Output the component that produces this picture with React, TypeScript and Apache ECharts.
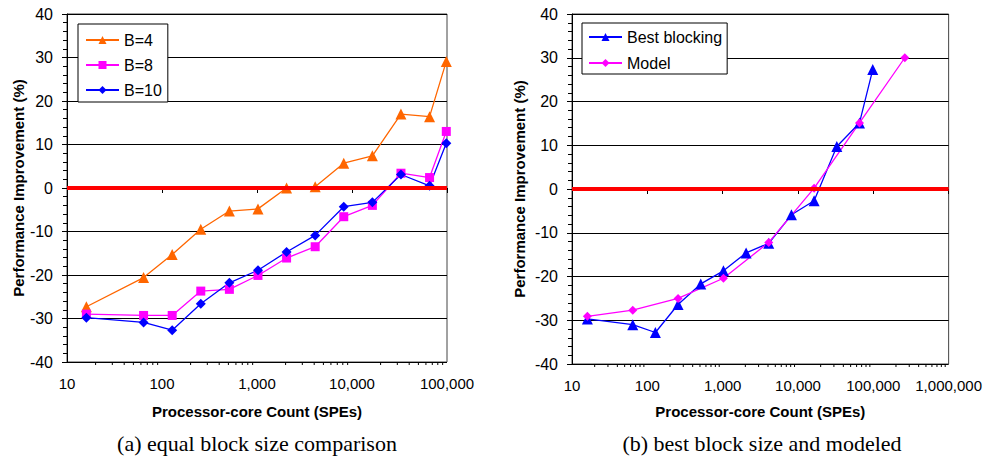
import React, { useEffect, useRef } from "react";
import * as echarts from "echarts";

const coresA = [16, 64, 128, 256, 512, 1024, 2048, 4096, 8192, 16384, 32768, 65536, 98304];
const b4 = [-27.3, -20.6, -15.3, -9.5, -5.3, -4.8, 0, 0.3, 5.7, 7.4, 17.0, 16.4, 29.1];
const b8 = [-29.0, -29.3, -29.3, -23.7, -23.3, -20.1, -16.1, -13.5, -6.6, -4.0, 3.4, 2.4, 13.0];
const b10 = [-29.8, -30.9, -32.7, -26.6, -21.8, -18.9, -14.7, -10.9, -4.3, -3.3, 3.1, 0.5, 10.3];

const coresBest = [16, 64, 128, 256, 512, 1024, 2048, 4096, 8192, 16384, 32768, 65536, 98304];
const best = [-29.7, -31.0, -32.8, -26.4, -21.7, -18.7, -14.6, -12.4, -5.9, -2.7, 9.7, 15.1, 27.3];
const coresModel = [16, 64, 256, 1024, 4096, 16384, 65536, 262144];
const model = [-29.1, -27.7, -25.0, -20.4, -12.2, 0.2, 15.1, 30.0];

const yTicks = { min: -40, max: 40, interval: 10 };
const minorMultipliers = [2, 3, 4, 5, 6, 7, 8, 9];
const decadesA = [10, 100, 1000, 10000];
const decadesB = [10, 100, 1000, 10000, 100000];

const FONT = "Liberation Sans";
const SERIF = "Liberation Serif";

function minorTicks(decades: number[]) {
  const out: number[][] = [];
  decades.forEach((d) => minorMultipliers.forEach((m) => out.push([d * m, -40])));
  return out;
}

function pairs(xs: number[], ys: number[]) {
  return xs.map((x, i) => [x, ys[i]]);
}

export default function App() {
  const ref = useRef<HTMLDivElement>(null);
  useEffect(() => {
    document.body.style.margin = "0";
    const chart = echarts.init(ref.current!, null, { renderer: "svg" });

    const xAxisBase = (gridIndex: number, max: number) => ({
      type: "log",
      logBase: 10,
      gridIndex,
      min: 10,
      max,
      axisLine: { lineStyle: { color: "#000", width: 1 } },
      axisTick: { show: true, length: 5, lineStyle: { color: "#000" } },
      splitLine: { show: false },
      axisLabel: {
        color: "#000",
        fontSize: 15,
        fontFamily: FONT,
        margin: 14,
        formatter: (v: number) => Math.round(v).toLocaleString("en-US"),
      },
      name: "Processor-core Count (SPEs)",
      nameLocation: "middle",
      nameGap: gridIndex === 0 ? 42 : 40,
      nameTextStyle: { color: "#000", fontSize: 15, fontWeight: "bold", fontFamily: FONT },
    });

    const yAxisBase = (gridIndex: number) => ({
      type: "value",
      gridIndex,
      ...yTicks,
      axisLine: { show: true, lineStyle: { color: "#000", width: 1 } },
      axisTick: { show: true, length: 5, lineStyle: { color: "#000" } },
      minorTick: { show: true, splitNumber: 5, length: 4, lineStyle: { color: "#000" } },
      splitLine: { show: true, lineStyle: { color: "#000", width: 1 } },
      axisLabel: { color: "#000", fontSize: 16, fontFamily: FONT, margin: 14 },
      name: "Performance Improvement (%)",
      nameLocation: "middle",
      nameGap: gridIndex === 0 ? 41 : 45,
      nameTextStyle: { color: "#000", fontSize: 15, fontWeight: "bold", fontFamily: FONT },
    });

    const zeroLine = {
      silent: true,
      symbol: "none",
      label: { show: false },
      lineStyle: { color: "#FF0000", width: 4, type: "solid" },
      data: [{ yAxis: 0 }],
    };

    const tickSeries = (idx: number, decades: number[]) => ({
      type: "custom",
      xAxisIndex: idx,
      yAxisIndex: idx,
      silent: true,
      clip: false,
      data: minorTicks(decades),
      renderItem: (_p: any, api: any) => {
        const pt = api.coord([api.value(0), api.value(1)]);
        return {
          type: "line",
          shape: { x1: pt[0], y1: pt[1], x2: pt[0], y2: pt[1] + 3 },
          style: { stroke: "#000", lineWidth: 1 },
        };
      },
    });

    const lineSeries = (
      name: string,
      idx: number,
      xs: number[],
      ys: number[],
      color: string,
      symbol: string,
      symbolSize: number,
      extra: any = {}
    ) => ({
      name,
      type: "line",
      xAxisIndex: idx,
      yAxisIndex: idx,
      data: pairs(xs, ys),
      symbol,
      symbolSize,
      showAllSymbol: true,
      itemStyle: { color },
      lineStyle: { color, width: 1.3 },
      ...extra,
    });

    const legendBase = {
      orient: "vertical",
      borderColor: "#000",
      borderWidth: 1,
      borderRadius: 0,
      itemWidth: 33,
      itemHeight: 10,
      textStyle: { color: "#000", fontSize: 16, fontFamily: FONT },
      backgroundColor: "#fff",
    };

    chart.setOption({
      animation: false,
      backgroundColor: "#fff",
      grid: [
        { left: 67, top: 14, width: 380, height: 348, show: true, borderColor: "#444", borderWidth: 1, backgroundColor: "transparent" },
        { left: 572, top: 14, width: 378, height: 350, show: true, borderColor: "#444", borderWidth: 1, backgroundColor: "transparent" },
      ],
      xAxis: [xAxisBase(0, 100000), xAxisBase(1, 1000000)],
      yAxis: [yAxisBase(0), yAxisBase(1)],
      legend: [
        { ...legendBase, left: 78, top: 24, itemGap: 9, padding: [8, 6, 4, 7], data: ["B=4", "B=8", "B=10"] },
        { ...legendBase, left: 582, top: 23, itemGap: 10, padding: [6, 5, 3, 6], data: ["Best blocking", "Model"] },
      ],
      series: [
        lineSeries("B=4", 0, coresA, b4, "#FF6600", "triangle", 11, { markLine: zeroLine }),
        lineSeries("B=8", 0, coresA, b8, "#FF00FF", "rect", 9),
        lineSeries("B=10", 0, coresA, b10, "#0000FF", "diamond", 10),
        lineSeries("Best blocking", 1, coresBest, best, "#0000FF", "triangle", 11, { markLine: zeroLine }),
        lineSeries("Model", 1, coresModel, model, "#FF00FF", "diamond", 9),
        tickSeries(0, decadesA),
        tickSeries(1, decadesB),
      ],
      graphic: [
        {
          type: "text",
          x: 257,
          y: 443,
          style: {
            text: "(a) equal block size comparison",
            fontSize: 22,
            fontFamily: SERIF,
            fill: "#000",
            align: "center",
            verticalAlign: "middle",
          },
        },
        {
          type: "text",
          x: 762,
          y: 443,
          style: {
            text: "(b) best block size and modeled",
            fontSize: 22,
            fontFamily: SERIF,
            fill: "#000",
            align: "center",
            verticalAlign: "middle",
          },
        },
      ],
    });
    return () => chart.dispose();
  }, []);
  return <div ref={ref} style={{ width: 985, height: 460 }} />;
}
